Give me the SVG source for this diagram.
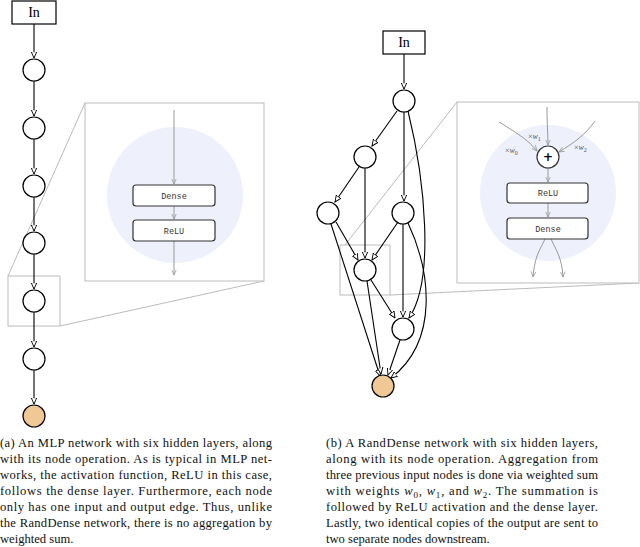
<svg xmlns="http://www.w3.org/2000/svg" width="640" height="547" viewBox="0 0 640 547">
<style>
.n{fill:#fff;stroke:#000;stroke-width:1.2}
.e{fill:none;stroke:#000;stroke-width:1.1;marker-end:url(#a)}
.g{fill:none;stroke:#999;stroke-width:1;marker-end:url(#ag)}
.zb{fill:#fff;stroke:#bbb;stroke-width:1}
.zl{fill:none;stroke:#bbb;stroke-width:1}
.op{fill:#fff;stroke:#333;stroke-width:1.2}
.mono{font-size:8.5px;fill:#333;text-anchor:middle}
.cap{font-size:12.6px;fill:#111}
.lbl{font-size:8px;fill:#555}
.in{font-size:14px;text-anchor:middle}
</style>
<defs>
<marker id="a" viewBox="0 0 10 10" refX="9" refY="5" markerWidth="7" markerHeight="7" markerUnits="userSpaceOnUse" orient="auto"><path d="M0,1 L9,5 L0,9 Z" fill="#fff" stroke="#000" stroke-width="1.3"/></marker>
<marker id="ag" viewBox="0 0 10 10" refX="9" refY="5" markerWidth="6" markerHeight="6" markerUnits="userSpaceOnUse" orient="auto"><path d="M0,1 L9,5 L0,9" fill="none" stroke="#999" stroke-width="1.3"/></marker>
</defs>
<g id="zoomA">
<rect class="zb" x="8" y="276" width="52" height="50" fill="none"/>
<path class="zl" d="M8,276 L85,103 M60,326 L264,281"/>
<rect class="zb" x="85" y="103" width="179" height="178"/>
<circle cx="175" cy="195" r="68" fill="#eef0fc"/>
<path class="g" d="M174,110 V184"/>
<path class="g" d="M174,206 V219"/>
<path class="g" d="M174,241 V275"/>
<rect class="op" x="133" y="185" width="82" height="21" rx="3"/>
<text class="mono" font-family="Liberation Mono, monospace" x="174" y="199">Dense</text>
<rect class="op" x="133" y="220" width="82" height="21" rx="3"/>
<text class="mono" font-family="Liberation Mono, monospace" x="174" y="234">ReLU</text>
</g>
<g id="connectorsA">
<path class="e" d="M34,24 V58"/>
<path class="e" d="M34,81 V116"/>
<path class="e" d="M34,139 V174"/>
<path class="e" d="M34,197 V231"/>
<path class="e" d="M34,254 V289"/>
<path class="e" d="M34,312 V347"/>
<path class="e" d="M34,370 V404"/>
</g>
<g id="inA"><rect x="12" y="1" width="44" height="23" class="n"/><text class="in" font-family="Liberation Serif, serif" x="34" y="17">In</text></g>
<g id="a1"><circle class="n" cx="34" cy="70" r="11"/></g>
<g id="a2"><circle class="n" cx="34" cy="128" r="11"/></g>
<g id="a3"><circle class="n" cx="34" cy="186" r="11"/></g>
<g id="a4"><circle class="n" cx="34" cy="243" r="11"/></g>
<g id="a5"><circle class="n" cx="34" cy="301" r="11"/></g>
<g id="a6"><circle class="n" cx="34" cy="359" r="11"/></g>
<g id="aOut"><circle cx="34" cy="416" r="11" fill="#f0c896" stroke="#000" stroke-width="1.2"/></g>
<g id="zoomB">
<rect class="zb" x="340" y="245" width="50" height="50" fill="none"/>
<path class="zl" d="M345,245 L457,102 M390,295 L639,283"/>
<rect class="zb" x="457" y="102" width="182" height="181"/>
<circle cx="548" cy="193" r="68" fill="#eef0fc"/>
<path class="g" d="M547,107 C547,125 548,135 548,145"/>
<path class="g" d="M499,122 C520,135 528,140 537,151"/>
<path class="g" d="M595,121 C585,135 575,142 559,152"/>
<g font-family="Liberation Serif, serif"><text class="lbl" x="528" y="139">×<tspan font-style="italic">w</tspan><tspan font-size="6" dy="2">1</tspan></text>
<text class="lbl" x="505" y="153">×<tspan font-style="italic">w</tspan><tspan font-size="6" dy="2">0</tspan></text>
<text class="lbl" x="574" y="150">×<tspan font-style="italic">w</tspan><tspan font-size="6" dy="2">2</tspan></text></g>
<path class="g" d="M548,168 V182"/>
<path class="g" d="M548,203 V217"/>
<path class="g" d="M545,239 C540,250 535,255 533,277"/>
<path class="g" d="M551,239 C556,250 562,258 563,277"/>
<rect class="op" x="507" y="183" width="81" height="20" rx="3"/>
<text class="mono" font-family="Liberation Mono, monospace" x="548" y="196">ReLU</text>
<rect class="op" x="507" y="218" width="81" height="21" rx="3"/>
<text class="mono" font-family="Liberation Mono, monospace" x="548" y="232">Dense</text>
<circle class="op" cx="548" cy="157" r="11"/>
<text x="548" y="161" text-anchor="middle" font-family="DejaVu Sans, sans-serif" font-size="12" font-weight="bold">+</text>
</g>
<g id="connectorsB">
<path class="e" d="M404,54 V89"/>
<path class="e" d="M397,111 L372,146"/>
<path class="e" d="M404,112 V201"/>
<path class="e" d="M408,111 C425,180 435,280 409,318"/>
<path class="e" d="M359,167 L335,202"/>
<path class="e" d="M365,168 V258"/>
<path class="e" d="M336,222 L358,260"/>
<path class="e" d="M331,224 L380,376"/>
<path class="e" d="M398,222 L372,260"/>
<path class="e" d="M403,224 V317"/>
<path class="e" d="M408,223 C430,270 440,340 391,378"/>
<path class="e" d="M371,280 L395,318"/>
<path class="e" d="M367,281 L381,374"/>
<path class="e" d="M400,340 L388,375"/>
</g>
<g id="inB"><rect x="383" y="31" width="42" height="23" class="n"/><text class="in" font-family="Liberation Serif, serif" x="404" y="47">In</text></g>
<g id="b1"><circle class="n" cx="404" cy="101" r="11"/></g>
<g id="b2"><circle class="n" cx="365" cy="157" r="11"/></g>
<g id="b3"><circle class="n" cx="328" cy="213" r="11"/></g>
<g id="b4"><circle class="n" cx="403" cy="213" r="11"/></g>
<g id="b5"><circle class="n" cx="365" cy="270" r="11"/></g>
<g id="b6"><circle class="n" cx="403" cy="329" r="11"/></g>
<g id="bOut"><circle cx="383" cy="386" r="11" fill="#f0c896" stroke="#000" stroke-width="1.2"/></g>
<g id="captionA" class="cap" font-family="Liberation Serif, serif">
<text x="0" y="447" textLength="272" lengthAdjust="spacing">(a) An MLP network with six hidden layers, along</text>
<text x="0" y="463" textLength="272" lengthAdjust="spacing">with its node operation. As is typical in MLP net-</text>
<text x="0" y="479" textLength="272" lengthAdjust="spacing">works, the activation function, ReLU in this case,</text>
<text x="0" y="495" textLength="272" lengthAdjust="spacing">follows the dense layer. Furthermore, each node</text>
<text x="0" y="511" textLength="272" lengthAdjust="spacing">only has one input and output edge. Thus, unlike</text>
<text x="0" y="527" textLength="272" lengthAdjust="spacing">the RandDense network, there is no aggregation by</text>
<text x="0" y="543">weighted sum.</text>
</g>
<g id="captionB" class="cap" font-family="Liberation Serif, serif">
<text x="326" y="447" textLength="272" lengthAdjust="spacing">(b) A RandDense network with six hidden layers,</text>
<text x="326" y="463" textLength="272" lengthAdjust="spacing">along with its node operation. Aggregation from</text>
<text x="326" y="479" textLength="272" lengthAdjust="spacing">three previous input nodes is done via weighted sum</text>
<text x="326" y="495" textLength="272" lengthAdjust="spacing">with weights <tspan font-style="italic">w</tspan><tspan font-size="9" dy="3">0</tspan><tspan dy="-3">, </tspan><tspan font-style="italic">w</tspan><tspan font-size="9" dy="3">1</tspan><tspan dy="-3">, and </tspan><tspan font-style="italic">w</tspan><tspan font-size="9" dy="3">2</tspan><tspan dy="-3">. The summation is</tspan></text>
<text x="326" y="511" textLength="272" lengthAdjust="spacing">followed by ReLU activation and the dense layer.</text>
<text x="326" y="527" textLength="272" lengthAdjust="spacing">Lastly, two identical copies of the output are sent to</text>
<text x="326" y="543">two separate nodes downstream.</text>
</g>
</svg>
